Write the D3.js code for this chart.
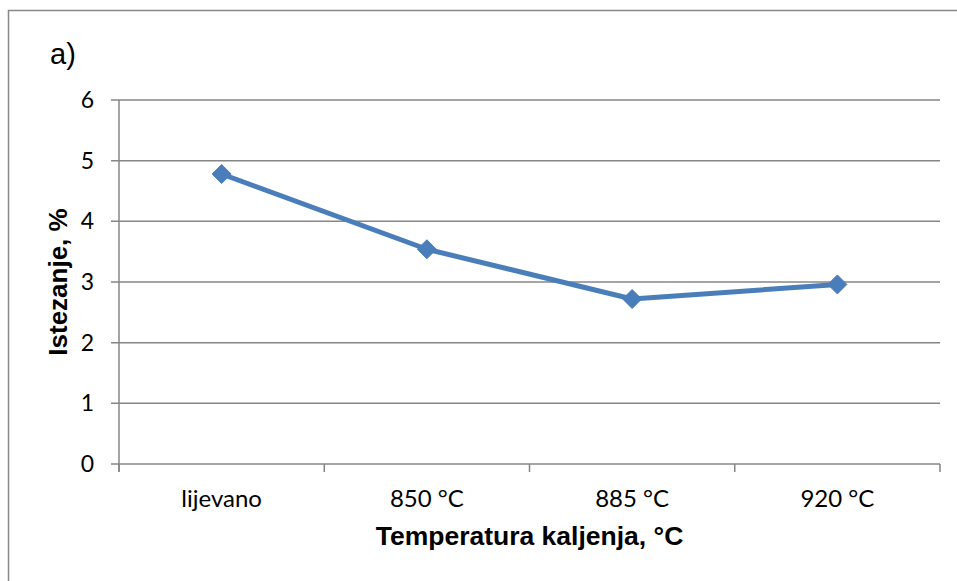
<!DOCTYPE html>
<html><head><meta charset="utf-8">
<script src="https://cdn.jsdelivr.net/npm/d3@7"></script>
<style>body{margin:0;background:#fff}svg{display:block}</style>
</head><body>
<script>
const categories = ["lijevano", "850 °C", "885 °C", "920 °C"];
const values = [4.78, 3.54, 2.72, 2.96];
const yTicks = [0, 1, 2, 3, 4, 5, 6];
const panelLabel = "a)";
const xTitle = "Temperatura kaljenja, °C";
const yTitle = "Istezanje, %";

const W = 957, H = 581;
const m = {left: 119, right: 17, top: 100, bottom: 117};
const svg = d3.select("body").append("svg").attr("width", W).attr("height", H);

svg.append("path").attr("d", `M8.5,${H} V10.5 H${W}`)
  .attr("fill", "none").attr("stroke", "#888").attr("stroke-width", 1.5);

const x = d3.scaleBand().domain(categories).range([m.left, W - m.right]);
const y = d3.scaleLinear().domain([0, 6]).range([H - m.bottom, m.top]);

const grid = "#868686";
svg.append("g").selectAll("line").data(yTicks).join("line")
  .attr("x1", m.left - 8).attr("x2", W - m.right)
  .attr("y1", d => y(d)).attr("y2", d => y(d))
  .attr("stroke", grid).attr("stroke-width", 1.5);

svg.append("line").attr("x1", m.left).attr("x2", m.left)
  .attr("y1", y(6)).attr("y2", y(0) + 8).attr("stroke", grid).attr("stroke-width", 1.5);

const bounds = categories.map(c => x(c)).concat([x(categories[categories.length - 1]) + x.bandwidth()]);
svg.append("g").selectAll("line").data(bounds).join("line")
  .attr("x1", d => d).attr("x2", d => d)
  .attr("y1", y(0)).attr("y2", y(0) + 8)
  .attr("stroke", grid).attr("stroke-width", 1.5);

const tickFont = "Lato, 'Open Sans', sans-serif";
svg.append("g").selectAll("text").data(yTicks).join("text")
  .attr("x", 94).attr("y", d => y(d) + 8)
  .attr("text-anchor", "end").attr("font-family", tickFont).attr("font-size", 23)
  .attr("fill", "#000").text(d => d);

svg.append("g").selectAll("text").data(categories).join("text")
  .attr("x", d => x(d) + x.bandwidth() / 2).attr("y", 507)
  .attr("text-anchor", "middle").attr("font-family", tickFont).attr("font-size", 24)
  .attr("fill", "#000").text(d => d);

svg.append("text").attr("x", (m.left + W - m.right) / 2).attr("y", 545)
  .attr("text-anchor", "middle").attr("font-family", "'Liberation Sans', Arial, sans-serif")
  .attr("font-weight", "bold").attr("font-size", 26.5).text(xTitle);

svg.append("text").attr("transform", `translate(67,${(y(0) + y(6)) / 2}) rotate(-90)`)
  .attr("text-anchor", "middle").attr("font-family", "'Liberation Sans', Arial, sans-serif")
  .attr("font-weight", "bold").attr("font-size", 26).text(yTitle);

svg.append("text").attr("x", 50).attr("y", 63.5)
  .attr("font-family", "'Liberation Sans', Arial, sans-serif").attr("font-size", 29).text(panelLabel);

const line = d3.line().x((d, i) => x(categories[i]) + x.bandwidth() / 2).y(d => y(d));
svg.append("path").datum(values).attr("d", line)
  .attr("fill", "none").attr("stroke", "#4a7ebb").attr("stroke-width", 5).attr("stroke-linejoin", "round");

svg.append("g").selectAll("path").data(values).join("path")
  .attr("transform", (d, i) => `translate(${x(categories[i]) + x.bandwidth() / 2},${y(d)})`)
  .attr("d", "M0,-9.5 L9.5,0 L0,9.5 L-9.5,0 Z")
  .attr("fill", "#4a7ebb").attr("stroke", "#4a7ebb").attr("stroke-width", 1);
</script>
</body></html>
